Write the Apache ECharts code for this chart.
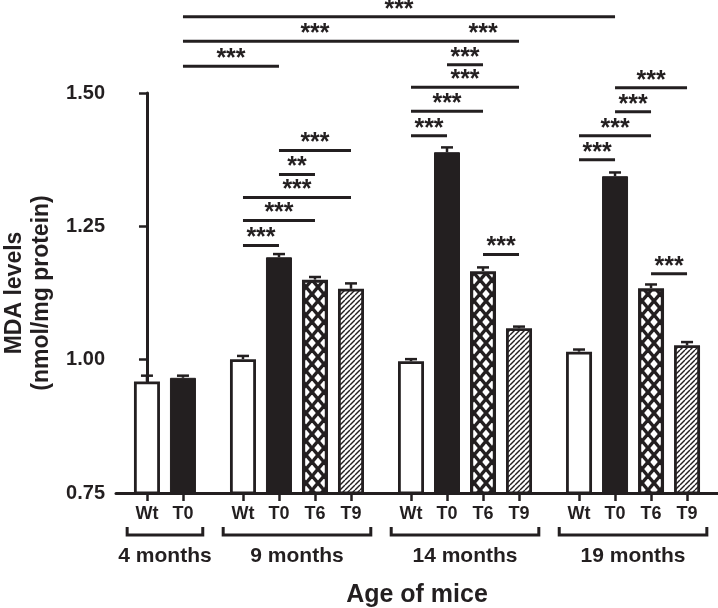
<!DOCTYPE html>
<html>
<head>
<meta charset="utf-8">
<script src="https://cdn.jsdelivr.net/npm/echarts@6/dist/echarts.min.js"></script>
<style>
  html, body { margin: 0; padding: 0; background: #fff; }
  #chart { width: 718px; height: 608px; }
</style>
</head>
<body>
<div id="chart"></div>
<script>
  // age groups and the treatments measured in each group
  const ageGroups = ['4 months', '9 months', '14 months', '19 months'];
  const groupTreatments = [
    ['Wt', 'T0'],
    ['Wt', 'T0', 'T6', 'T9'],
    ['Wt', 'T0', 'T6', 'T9'],
    ['Wt', 'T0', 'T6', 'T9']
  ];

  // MDA levels (nmol/mg protein) per age group, null = not measured
  const wtValues = [0.959, 1.001, 0.997, 1.015];
  const wtErrors = [0.011, 0.006, 0.004, 0.004];
  const t0Values = [0.966, 1.192, 1.389, 1.344];
  const t0Errors = [0.004, 0.006, 0.009, 0.007];
  const t6Values = [null, 1.150, 1.166, 1.134];
  const t6Errors = [null, 0.005, 0.007, 0.007];
  const t9Values = [null, 1.133, 1.059, 1.027];
  const t9Errors = [null, 0.010, 0.003, 0.006];

  const yTicks = [0.75, 1.00, 1.25, 1.50];

  // significance brackets: [fromGroup, fromTreatment, toGroup, toTreatment, level, stars]
  const sigPairs = [
    [0, 'T0', 3, 'T0', 1.643, '***'],
    [0, 'T0', 2, 'T0', 1.597, '***'],
    [0, 'T0', 1, 'T0', 1.550, '***'],
    [1, 'Wt', 1, 'T0', 1.214, '***'],
    [1, 'Wt', 1, 'T6', 1.261, '***'],
    [1, 'Wt', 1, 'T9', 1.304, '***'],
    [1, 'T0', 1, 'T6', 1.347, '**'],
    [1, 'T0', 1, 'T9', 1.392, '***'],
    [2, 'Wt', 2, 'T0', 1.420, '***'],
    [2, 'Wt', 2, 'T6', 1.466, '***'],
    [2, 'Wt', 2, 'T9', 1.511, '***'],
    [2, 'T0', 2, 'T6', 1.553, '***'],
    [2, 'T0', 2, 'T9', 1.597, '***'],
    [2, 'T6', 2, 'T9', 1.197, '***'],
    [3, 'Wt', 3, 'T0', 1.375, '***'],
    [3, 'Wt', 3, 'T6', 1.420, '***'],
    [3, 'T0', 3, 'T6', 1.465, '***'],
    [3, 'T0', 3, 'T9', 1.510, '***'],
    [3, 'T6', 3, 'T9', 1.161, '***']
  ];

  const INK = '#231f20';
  const FONT = '"Liberation Sans", Arial, Helvetica, sans-serif';
  const GROUP_GAP = 0.667;  // extra room between age groups, in bar slots
  const PAD = 0.86;

  // x position of every bar, one slot per bar
  const barPos = {};
  const tickPos = [];
  const tickNames = [];
  const groupSpan = [];
  let cursor = 0;
  groupTreatments.forEach(function (treats, g) {
    const start = cursor;
    treats.forEach(function (t) {
      barPos[g + ':' + t] = cursor;
      tickPos.push(cursor);
      tickNames.push(t);
      cursor += 1;
    });
    groupSpan.push([start, cursor - 1, g]);
    cursor += GROUP_GAP;
  });
  const xMax = tickPos[tickPos.length - 1] + PAD;

  function barData(name, values) {
    return values.map(function (v, g) {
      return v == null ? null : [barPos[g + ':' + name], v];
    }).filter(Boolean);
  }
  function errData(name, values, errors) {
    return values.map(function (v, g) {
      return v == null ? null : [barPos[g + ':' + name], v, errors[g]];
    }).filter(Boolean);
  }

  function tile(w, h, draw) {
    const c = document.createElement('canvas');
    c.width = w; c.height = h;
    const ctx = c.getContext('2d');
    ctx.fillStyle = '#fff';
    ctx.fillRect(0, 0, w, h);
    ctx.strokeStyle = INK;
    draw(ctx, w, h);
    return c;
  }
  const crossTile = tile(12, 14, function (ctx, w, h) {
    ctx.lineWidth = 3.4;
    [-w, 0, w].forEach(function (dx) {
      [-h, 0, h].forEach(function (dy) {
        ctx.beginPath(); ctx.moveTo(dx, dy); ctx.lineTo(dx + w, dy + h); ctx.stroke();
        ctx.beginPath(); ctx.moveTo(dx + w, dy); ctx.lineTo(dx, dy + h); ctx.stroke();
      });
    });
  });
  const diagTile = tile(5, 5, function (ctx, w, h) {
    ctx.lineWidth = 1.4;
    [-w, 0, w].forEach(function (d) {
      ctx.beginPath(); ctx.moveTo(d, h); ctx.lineTo(d + w, 0); ctx.stroke();
    });
  });

  const barStyles = {
    Wt: { color: '#fff', borderColor: INK, borderWidth: 2.8 },
    T0: { color: INK, borderColor: INK, borderWidth: 1 },
    T6: { color: { image: crossTile, repeat: 'repeat' }, borderColor: INK, borderWidth: 3.2 },
    T9: { color: { image: diagTile, repeat: 'repeat' }, borderColor: INK, borderWidth: 2.8 }
  };

  function barSeries(name, values) {
    return {
      name: name,
      type: 'bar',
      data: barData(name, values),
      barWidth: 26,
      barGap: '-100%',
      itemStyle: barStyles[name],
      z: 2,
      silent: true
    };
  }

  function renderError(params, api) {
    const x = api.value(0), v = api.value(1), e = api.value(2);
    const base = api.coord([x, v]);
    const top = api.coord([x, v + e]);
    const style = { stroke: INK, lineWidth: 2.5 };
    return {
      type: 'group',
      children: [
        { type: 'line', shape: { x1: base[0], y1: base[1], x2: top[0], y2: top[1] }, style: style },
        { type: 'line', shape: { x1: top[0] - 6, y1: top[1], x2: top[0] + 6, y2: top[1] }, style: style }
      ]
    };
  }
  function errSeries(name, values, errors) {
    return {
      type: 'custom',
      renderItem: renderError,
      data: errData(name, values, errors),
      encode: { x: 0, y: 1 },
      z: 3,
      silent: true
    };
  }

  const sigData = sigPairs.map(function (s) {
    return [barPos[s[0] + ':' + s[1]], barPos[s[2] + ':' + s[3]], s[4]];
  });
  function renderSig(params, api) {
    const a = api.coord([api.value(0), api.value(2)]);
    const b = api.coord([api.value(1), api.value(2)]);
    return {
      type: 'group',
      children: [
        { type: 'line', shape: { x1: a[0], y1: a[1], x2: b[0], y2: b[1] },
          style: { stroke: INK, lineWidth: 3 } },
        { type: 'text', x: (a[0] + b[0]) / 2, y: a[1] - 7,
          style: { text: sigPairs[params.dataIndex][5], fill: INK,
                   font: 'bold 25px ' + FONT, align: 'center', verticalAlign: 'middle' } }
      ]
    };
  }

  function renderBracket(params, api) {
    const a = api.coord([api.value(0) - 0.55, 0.75]);
    const b = api.coord([api.value(1) + 0.55, 0.75]);
    const y = a[1] + 42;
    return {
      type: 'group',
      children: [
        { type: 'polyline',
          shape: { points: [[a[0], y - 8], [a[0], y], [b[0], y], [b[0], y - 8]] },
          style: { stroke: INK, lineWidth: 3, fill: 'none' } },
        { type: 'text', x: (a[0] + b[0]) / 2, y: y + 21,
          style: { text: ageGroups[params.dataIndex], fill: INK,
                   font: 'bold 21px ' + FONT, align: 'center', verticalAlign: 'middle' } }
      ]
    };
  }

  const chart = echarts.init(document.getElementById('chart'), null, { renderer: 'canvas' });
  chart.setOption({
    animation: false,
    backgroundColor: '#fff',
    grid: { left: 116, right: 0, top: 93, bottom: 115, outerBoundsMode: 'none' },
    xAxis: {
      type: 'value',
      min: -PAD,
      max: xMax,
      name: 'Age of mice',
      nameLocation: 'middle',
      nameGap: 90,
      nameTextStyle: { color: INK, fontFamily: FONT, fontWeight: 'bold', fontSize: 25 },
      splitLine: { show: false },
      axisLine: { show: true, onZero: false, lineStyle: { color: INK, width: 3 } },
      axisTick: { show: true, customValues: tickPos, length: 8, lineStyle: { color: INK, width: 2.5 } },
      axisLabel: {
        customValues: tickPos,
        margin: 12,
        color: INK, fontFamily: FONT, fontWeight: 'bold', fontSize: 18,
        formatter: function (v) {
          let best = 0;
          tickPos.forEach(function (p, i) {
            if (Math.abs(p - v) < Math.abs(tickPos[best] - v)) best = i;
          });
          return tickNames[best];
        }
      }
    },
    yAxis: {
      type: 'value',
      min: yTicks[0],
      max: yTicks[yTicks.length - 1],
      interval: 0.25,
      name: 'MDA levels\n(nmol/mg protein)',
      nameLocation: 'middle',
      nameRotate: 90,
      nameGap: 55,
      nameTextStyle: { color: INK, fontFamily: FONT, fontWeight: 'bold', fontSize: 23, lineHeight: 27 },
      splitLine: { show: false },
      axisLine: { show: true, lineStyle: { color: INK, width: 3 } },
      axisTick: { show: true, length: 8, lineStyle: { color: INK, width: 2.5 } },
      axisLabel: {
        margin: 11,
        color: INK, fontFamily: FONT, fontWeight: 'bold', fontSize: 20,
        formatter: function (v) { return v.toFixed(2); }
      }
    },
    series: [
      barSeries('Wt', wtValues),
      barSeries('T0', t0Values),
      barSeries('T6', t6Values),
      barSeries('T9', t9Values),
      errSeries('Wt', wtValues, wtErrors),
      errSeries('T0', t0Values, t0Errors),
      errSeries('T6', t6Values, t6Errors),
      errSeries('T9', t9Values, t9Errors),
      {
        type: 'custom',
        renderItem: renderSig,
        data: sigData,
        encode: { x: [0, 1], y: 2 },
        clip: false,
        z: 4,
        silent: true
      },
      {
        type: 'custom',
        renderItem: renderBracket,
        data: groupSpan,
        encode: { x: [0, 1] },
        clip: false,
        z: 4,
        silent: true
      }
    ]
  });
</script>
</body>
</html>
